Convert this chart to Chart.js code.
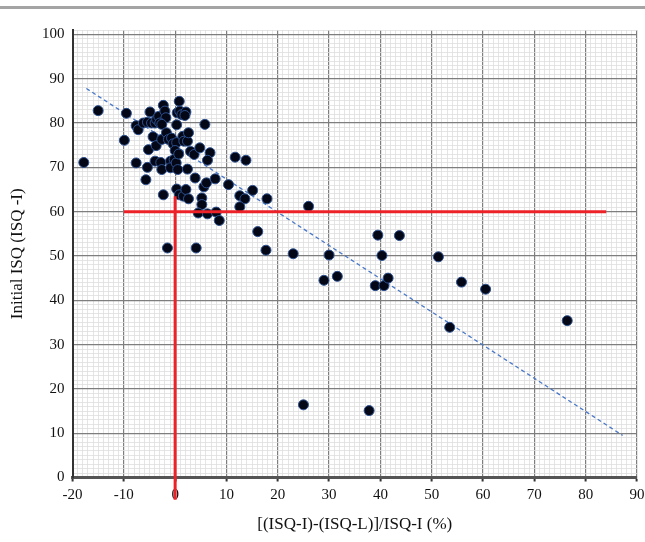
<!DOCTYPE html>
<html>
<head>
<meta charset="utf-8">
<script src="https://cdn.jsdelivr.net/npm/chart.js@4"></script>
<style>
    body { margin: 0; background: #fff; }
    .wrap { position: relative; width: 645px; height: 542px; }
    .top-rule { position: absolute; left: 0; top: 6px; width: 645px; height: 3px; background: #a4a4a4; }
</style>
</head>
<body>
<div class="wrap">
    <div class="top-rule"></div>
    <canvas id="isqChart" width="645" height="542"></canvas>
</div>
<script>
// values: change in ISQ (%) vs initial ISQ
const changePct = [
    -17.8, -15.0, -9.5, -9.9, -7.6, -7.2, -7.6, -6.2, -5.4, -4.9,
    -5.2, -5.4, -5.7, -4.6, -3.9, -3.6, -3.2, -4.3, -3.7, -3.9,
    -2.8, -2.6, -2.3, -2.0, -1.8, -3.0, -2.6, -2.6, -1.7, -1.3,
    -0.7, -0.4, -0.9, -0.9, 0.3, 0.0, -0.2, 0.2, 0.5, 0.4,
    0.8, 0.9, 1.3, 2.1, 1.9, 0.3, 0.7, 1.5, 1.7, 2.4,
    2.6, 2.4, 3.0, 3.7, 4.8, 5.8, 6.8, 6.3, 3.9, 5.6,
    6.1, 7.8, 10.4, 11.7, 13.8, 15.1, 12.6, 13.6, 12.6, 17.9,
    16.1, -2.3, 0.3, 0.8, 1.6, 2.1, 2.6, 5.2, 5.2, 4.5,
    6.3, 8.0, 8.6, -1.5, 4.1, 26.0, 17.7, 23.0, 30.0, 29.0,
    31.6, 39.5, 43.7, 40.3, 39.0, 40.7, 41.5, 51.3, 55.8, 53.5,
    60.5, 76.4, 25.0, 37.8
];
const initialIsq = [
    71.1, 82.8, 82.2, 76.1, 79.4, 78.5, 71.0, 80.0, 80.2, 82.5,
    74.0, 70.0, 67.2, 80.0, 80.0, 80.8, 81.5, 76.9, 74.9, 71.4,
    71.1, 69.5, 84.0, 82.7, 81.2, 80.0, 79.7, 76.3, 77.8, 76.3,
    76.6, 75.3, 71.4, 69.9, 75.6, 73.8, 71.8, 71.0, 69.5, 82.3,
    84.9, 82.7, 81.9, 82.5, 81.7, 79.6, 73.0, 77.0, 75.9, 75.9,
    77.8, 69.6, 73.6, 72.9, 74.4, 79.7, 73.3, 71.6, 67.6, 65.6,
    66.5, 67.4, 66.1, 72.3, 71.6, 64.8, 63.6, 62.9, 61.1, 62.9,
    55.5, 63.8, 65.1, 63.8, 63.5, 65.0, 62.9, 63.1, 61.6, 59.7,
    59.5, 59.9, 58.0, 51.8, 51.8, 61.2, 51.3, 50.5, 50.2, 44.5,
    45.4, 54.7, 54.6, 50.1, 43.3, 43.3, 45.0, 49.8, 44.1, 33.9,
    42.5, 35.4, 16.4, 15.1
];

// dashed regression line end points
const trendX = [-17.3, 87.2];
const trendY = [87.8, 9.5];

// red cut-off lines
const cutoffIsq = 60;
const cutoffSpan = [-10, 84];
const zeroSpan = [63.5, -5];

const xRange = [-20, 90];
const yRange = [0, 101];
const majorStep = 10;

const points = changePct.map((x, i) => ({ x: x, y: initialIsq[i] }));
const trend = trendX.map((x, i) => ({ x: x, y: trendY[i] }));
const cutoffLine = cutoffSpan.map(x => ({ x: x, y: cutoffIsq }));
const zeroLine = zeroSpan.map(y => ({ x: 0, y: y }));

const isMajor = v => Math.abs(v % majorStep) < 1e-9;
const gridColor = c => isMajor(c.tick.value) ? '#7e7e7e' : '#dedede';
const gridWidth = c => isMajor(c.tick.value) ? 1.2 : 0.8;
const serif = "'Liberation Serif', 'DejaVu Serif', serif";

const ctx = document.getElementById('isqChart').getContext('2d');

const isqChart = new Chart(ctx, {
    type: 'scatter',
    data: {
        datasets: [
            {
                type: 'line',
                data: cutoffLine,
                borderColor: '#ec2228',
                borderWidth: 3,
                pointRadius: 0,
                order: 0
            },
            {
                type: 'line',
                data: zeroLine,
                borderColor: '#ec2228',
                borderWidth: 3,
                pointRadius: 0,
                clip: false,
                order: 0
            },
            {
                data: points,
                backgroundColor: '#040816',
                borderColor: '#2c4f8f',
                borderWidth: 1,
                pointRadius: 5,
                order: 1
            },
            {
                type: 'line',
                data: trend,
                borderColor: '#4a78c8',
                borderWidth: 1.3,
                borderDash: [4, 3],
                pointRadius: 0,
                order: 2
            }
        ]
    },
    options: {
        responsive: false,
        animation: false,
        layout: { padding: { top: 30, right: 8, left: 0, bottom: 0 } },
        plugins: {
            legend: { display: false },
            tooltip: { enabled: false }
        },
        scales: {
            x: {
                type: 'linear',
                min: xRange[0],
                max: xRange[1],
                afterFit: scale => {
                    scale.height = 64.5;
                    scale.paddingRight = 0;
                    scale.paddingLeft = 0;
                },
                ticks: {
                    stepSize: 1,
                    autoSkip: false,
                    maxRotation: 0,
                    padding: 5,
                    color: '#111',
                    font: { family: serif, size: 15 },
                    callback: v => isMajor(v) ? String(v) : ''
                },
                grid: {
                    color: gridColor,
                    lineWidth: gridWidth,
                    tickLength: 4,
                    tickColor: c => isMajor(c.tick.value) ? '#333' : 'rgba(0,0,0,0)',
                    tickWidth: 2
                },
                border: { color: '#555', width: 3 },
                title: {
                    display: true,
                    text: '[(ISQ-I)-(ISQ-L)]/ISQ-I (%)',
                    color: '#111',
                    font: { family: serif, size: 17 },
                    padding: { top: 0, bottom: 7 }
                }
            },
            y: {
                type: 'linear',
                min: yRange[0],
                max: yRange[1],
                afterFit: scale => { scale.width = 72.5; },
                ticks: {
                    stepSize: 1,
                    autoSkip: false,
                    padding: 8,
                    color: '#111',
                    font: { family: serif, size: 15 },
                    callback: v => isMajor(v) ? String(v) : ''
                },
                grid: {
                    color: gridColor,
                    lineWidth: gridWidth,
                    drawTicks: false
                },
                border: { color: '#333', width: 2 },
                title: {
                    display: true,
                    text: 'Initial ISQ (ISQ -I)',
                    color: '#111',
                    font: { family: serif, size: 17 },
                    padding: { top: 7, bottom: 0 }
                }
            }
        }
    }
});
</script>
</body>
</html>
